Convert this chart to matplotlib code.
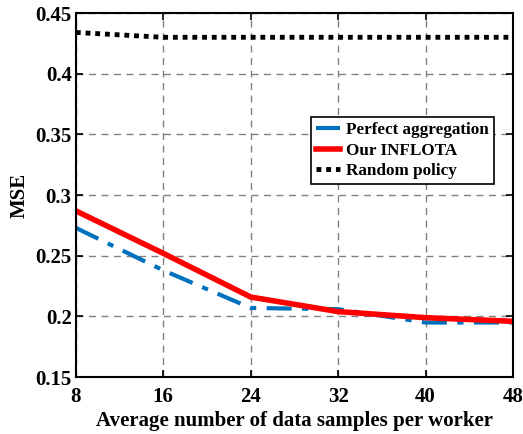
import numpy as np
import matplotlib.pyplot as plt

# data
samples = [8, 16, 24, 32, 40, 48]
mse_perfect = [0.273, 0.238, 0.207, 0.206, 0.195, 0.195]
mse_inflota = [0.287, 0.252, 0.216, 0.204, 0.199, 0.196]
mse_random = [0.434, 0.430, 0.430, 0.430, 0.430, 0.430]

plt.rcParams['font.family'] = ['Liberation Serif', 'DejaVu Serif']
plt.rcParams['font.weight'] = 'bold'

fig = plt.figure(figsize=(5.23, 4.34), dpi=100)
ax = fig.add_axes([0.145, 0.131, 0.836, 0.839])

ax.plot(samples, mse_perfect, color='#0072BD', linestyle=(0, (6, 2.5, 1.5, 2.5)),
        linewidth=3, label='Perfect aggregation')
ax.plot(samples, mse_inflota, color='#FF0000', linestyle='-', linewidth=4,
        label='Our INFLOTA')
ax.plot(samples, mse_random, color='k', linestyle=(0, (1, 1)), linewidth=3.5,
        label='Random policy')

ax.set_xlim(8, 48)
ax.set_ylim(0.15, 0.45)
ax.set_xticks(samples)
ax.set_yticks([0.15, 0.2, 0.25, 0.3, 0.35, 0.4, 0.45])
ax.set_yticklabels(['0.15', '0.2', '0.25', '0.3', '0.35', '0.4', '0.45'])

# grid and ticks in MATLAB style
ax.grid(True, color='#808080', linestyle=(0, (5, 4)), linewidth=1)
ax.tick_params(direction='in', top=True, right=True, length=5, width=1.2,
               labelsize=15)
ax.tick_params(axis='x', pad=7)
ax.tick_params(axis='y', pad=3)
for s in ax.spines.values():
    s.set_linewidth(1.5)
for t in ax.get_xticklabels() + ax.get_yticklabels():
    t.set_fontweight('bold')

ax.set_xlabel('Average number of data samples per worker', fontsize=15,
              fontweight='bold', labelpad=3)
ax.set_ylabel('MSE', fontsize=15, fontweight='bold', labelpad=4)

leg = ax.legend(loc='upper right', bbox_to_anchor=(0.957, 0.714),
                fontsize=12.3, frameon=True, fancybox=False, framealpha=1,
                edgecolor='k', handlelength=1.4, handletextpad=0.4,
                borderpad=0.3, labelspacing=0.25, borderaxespad=0)
leg.get_frame().set_linewidth(1.2)
for t in leg.get_texts():
    t.set_fontweight('bold')

fig.savefig('out.png', dpi=100)
